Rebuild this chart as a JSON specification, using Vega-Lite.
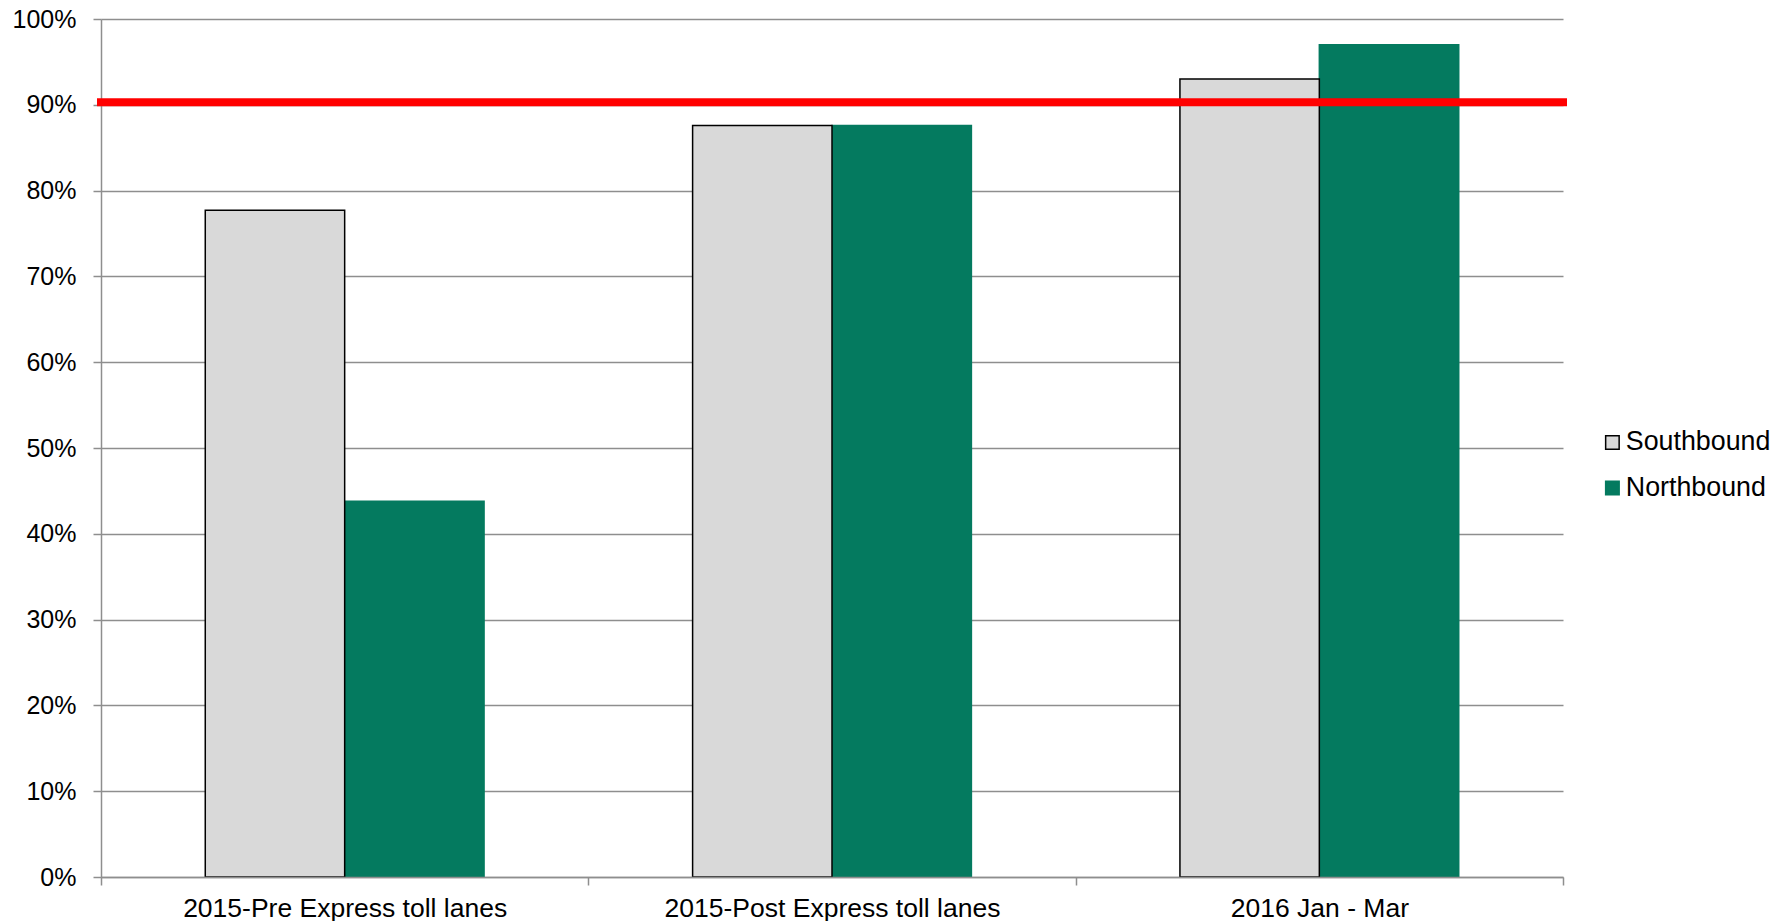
{
  "$schema": "https://vega.github.io/schema/vega-lite/v6.json",
  "width": 1462,
  "height": 858,
  "autosize": {"type": "none"},
  "padding": {"left": 101, "top": 19, "right": 220, "bottom": 44},
  "background": "white",
  "config": {
    "font": "Liberation Sans",
    "view": {"stroke": null}
  },
  "layer": [
    {
      "data": {
        "values": [
          {"period": "2015-Pre Express toll lanes", "direction": "Southbound", "share": 0.777},
          {"period": "2015-Pre Express toll lanes", "direction": "Northbound", "share": 0.438},
          {"period": "2015-Post Express toll lanes", "direction": "Southbound", "share": 0.876},
          {"period": "2015-Post Express toll lanes", "direction": "Northbound", "share": 0.876},
          {"period": "2016 Jan - Mar", "direction": "Southbound", "share": 0.930},
          {"period": "2016 Jan - Mar", "direction": "Northbound", "share": 0.970}
        ]
      },
      "mark": {"type": "bar", "strokeWidth": 1.5},
      "encoding": {
        "x": {
          "field": "period",
          "type": "nominal",
          "sort": null,
          "scale": {"paddingInner": 0, "paddingOuter": 0},
          "axis": {
            "title": null,
            "labelAngle": 0,
            "labelLimit": 0,
            "labelFontSize": 26.5,
            "labelColor": "#000000",
            "labelPadding": 10,
            "tickBand": "extent",
            "tickSize": 8,
            "tickColor": "#8E8E8E",
            "tickWidth": 1.5,
            "domainColor": "#8E8E8E",
            "domainWidth": 1.5,
            "grid": false,
            "zindex": 1
          }
        },
        "xOffset": {
          "field": "direction",
          "sort": ["Southbound", "Northbound"],
          "scale": {"paddingInner": 0, "paddingOuter": 0.748}
        },
        "y": {
          "field": "share",
          "type": "quantitative",
          "stack": null,
          "scale": {"domain": [0, 1], "nice": false},
          "axis": {
            "title": null,
            "format": ".0%",
            "values": [0, 0.1, 0.2, 0.3, 0.4, 0.5, 0.6, 0.7, 0.8, 0.9, 1],
            "labelFontSize": 25,
            "labelColor": "#000000",
            "labelPadding": 17,
            "tickSize": 8,
            "tickColor": "#8E8E8E",
            "tickWidth": 1.5,
            "domainColor": "#8E8E8E",
            "domainWidth": 1.5,
            "grid": true,
            "gridColor": "#8E8E8E",
            "gridWidth": 1.5
          }
        },
        "fill": {
          "field": "direction",
          "type": "nominal",
          "scale": {"domain": ["Southbound", "Northbound"], "range": ["#D9D9D9", "#047A5F"]},
          "legend": {
            "title": null,
            "orient": "none",
            "legendX": 1498,
            "legendY": 410,
            "symbolType": "square",
            "symbolSize": 182,
            "symbolStrokeWidth": 1.5,
            "symbolOpacity": 1,
            "labelFontSize": 26.8,
            "labelColor": "#000000",
            "labelOffset": 0,
            "rowPadding": 17.7,
            "padding": 0
          }
        },
        "stroke": {
          "field": "direction",
          "type": "nominal",
          "scale": {"domain": ["Southbound", "Northbound"], "range": ["#000000", "#047A5F"]},
          "legend": {
            "title": null,
            "orient": "none",
            "legendX": 1498,
            "legendY": 410,
            "symbolType": "square",
            "symbolSize": 182,
            "symbolStrokeWidth": 1.5,
            "symbolOpacity": 1,
            "labelFontSize": 26.8,
            "labelColor": "#000000",
            "labelOffset": 0,
            "rowPadding": 17.7,
            "padding": 0
          }
        },
        "order": {"field": "direction", "type": "ordinal", "sort": "ascending"}
      }
    },
    {
      "data": {"values": [{"target": 0.903}]},
      "mark": {"type": "rule", "color": "#FF0000", "strokeWidth": 8, "strokeCap": "square"},
      "encoding": {
        "y": {"field": "target", "type": "quantitative"}
      }
    }
  ]
}
